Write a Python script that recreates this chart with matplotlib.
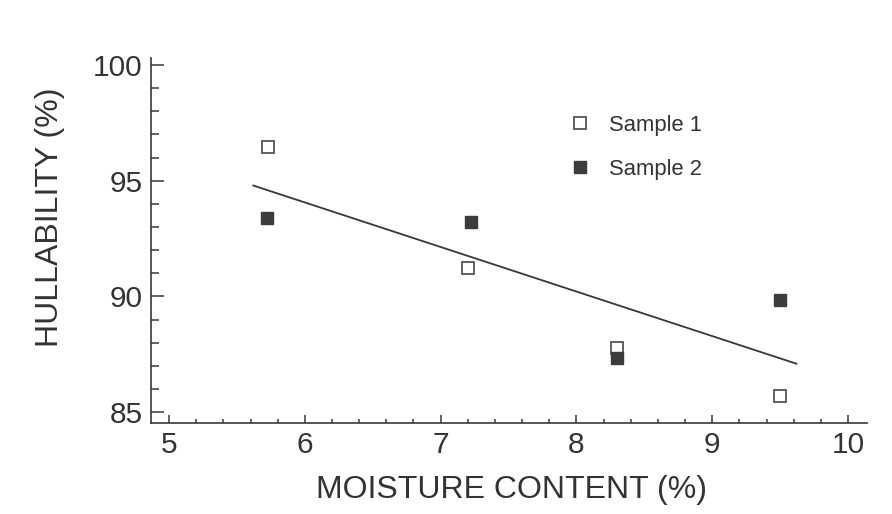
import matplotlib
matplotlib.use("Agg")
import matplotlib.pyplot as plt
from matplotlib.ticker import MultipleLocator

plt.rcParams['font.family'] = ['Liberation Sans', 'DejaVu Sans']

# Data
s1_x = [5.73, 7.20, 8.30, 9.50]
s1_y = [96.47, 91.21, 87.75, 85.69]
s2_x = [5.72, 7.22, 8.30, 9.50]
s2_y = [93.37, 93.20, 87.35, 89.84]
fit_x = [5.62, 9.62]
fit_y = [94.79, 87.09]
labels = ["Sample 1", "Sample 2"]
x_ticks = [5, 6, 7, 8, 9, 10]
y_ticks = [85, 90, 95, 100]

ink = '#383838'
fig = plt.figure(figsize=(8.92, 5.14), dpi=100)
ax = fig.add_axes([0.169, 0.1776, 0.803, 0.7095])

ax.plot(fit_x, fit_y, color=ink, lw=1.3, zorder=2)
ax.plot(s1_x, s1_y, ls='none', marker='s', ms=8.5, mfc='white', mec='#555555',
        mew=1.3, label=labels[0], zorder=3)
ax.plot(s2_x, s2_y, ls='none', marker='s', ms=8.5, mfc='#3c3c3c', mec='#3c3c3c',
        mew=1.0, label=labels[1], zorder=4)

ax.set_xlim(4.865, 10.14)
ax.set_ylim(84.54, 100.3)
ax.set_xticks(x_ticks)
ax.set_yticks(y_ticks)
ax.xaxis.set_minor_locator(MultipleLocator(0.2))
ax.yaxis.set_minor_locator(MultipleLocator(1))

for s in ['top', 'right']:
    ax.spines[s].set_visible(False)
for s in ['left', 'bottom']:
    ax.spines[s].set_color(ink)
    ax.spines[s].set_linewidth(1.2)

ax.tick_params(axis='both', which='both', direction='in', color=ink, width=1.1,
               labelcolor='#333333', labelsize=21.5)
ax.tick_params(axis='y', which='major', length=9, pad=6)
ax.tick_params(axis='y', which='minor', length=6)
ax.tick_params(axis='x', which='major', length=6, pad=6)
ax.tick_params(axis='x', which='minor', length=3)

fig.text(512 / 892, 1 - 498 / 514, "MOISTURE CONTENT (%)", ha='center', va='baseline',
         fontsize=23, color='#333333')
fig.text(50 / 892, 1 - 217 / 514, "HULLABILITY (%)", ha='center', va='center',
         rotation=90, fontsize=23, color='#333333')

ax.legend(loc='upper left', bbox_to_anchor=(0.638, 0.777), bbox_transform=fig.transFigure,
          frameon=False, fontsize=15.8, borderpad=0, borderaxespad=0,
          handlelength=1.0, handletextpad=0.8, labelspacing=1.05, numpoints=1,
          labelcolor='#333333')

fig.savefig('out.png', dpi=100, facecolor='white')
